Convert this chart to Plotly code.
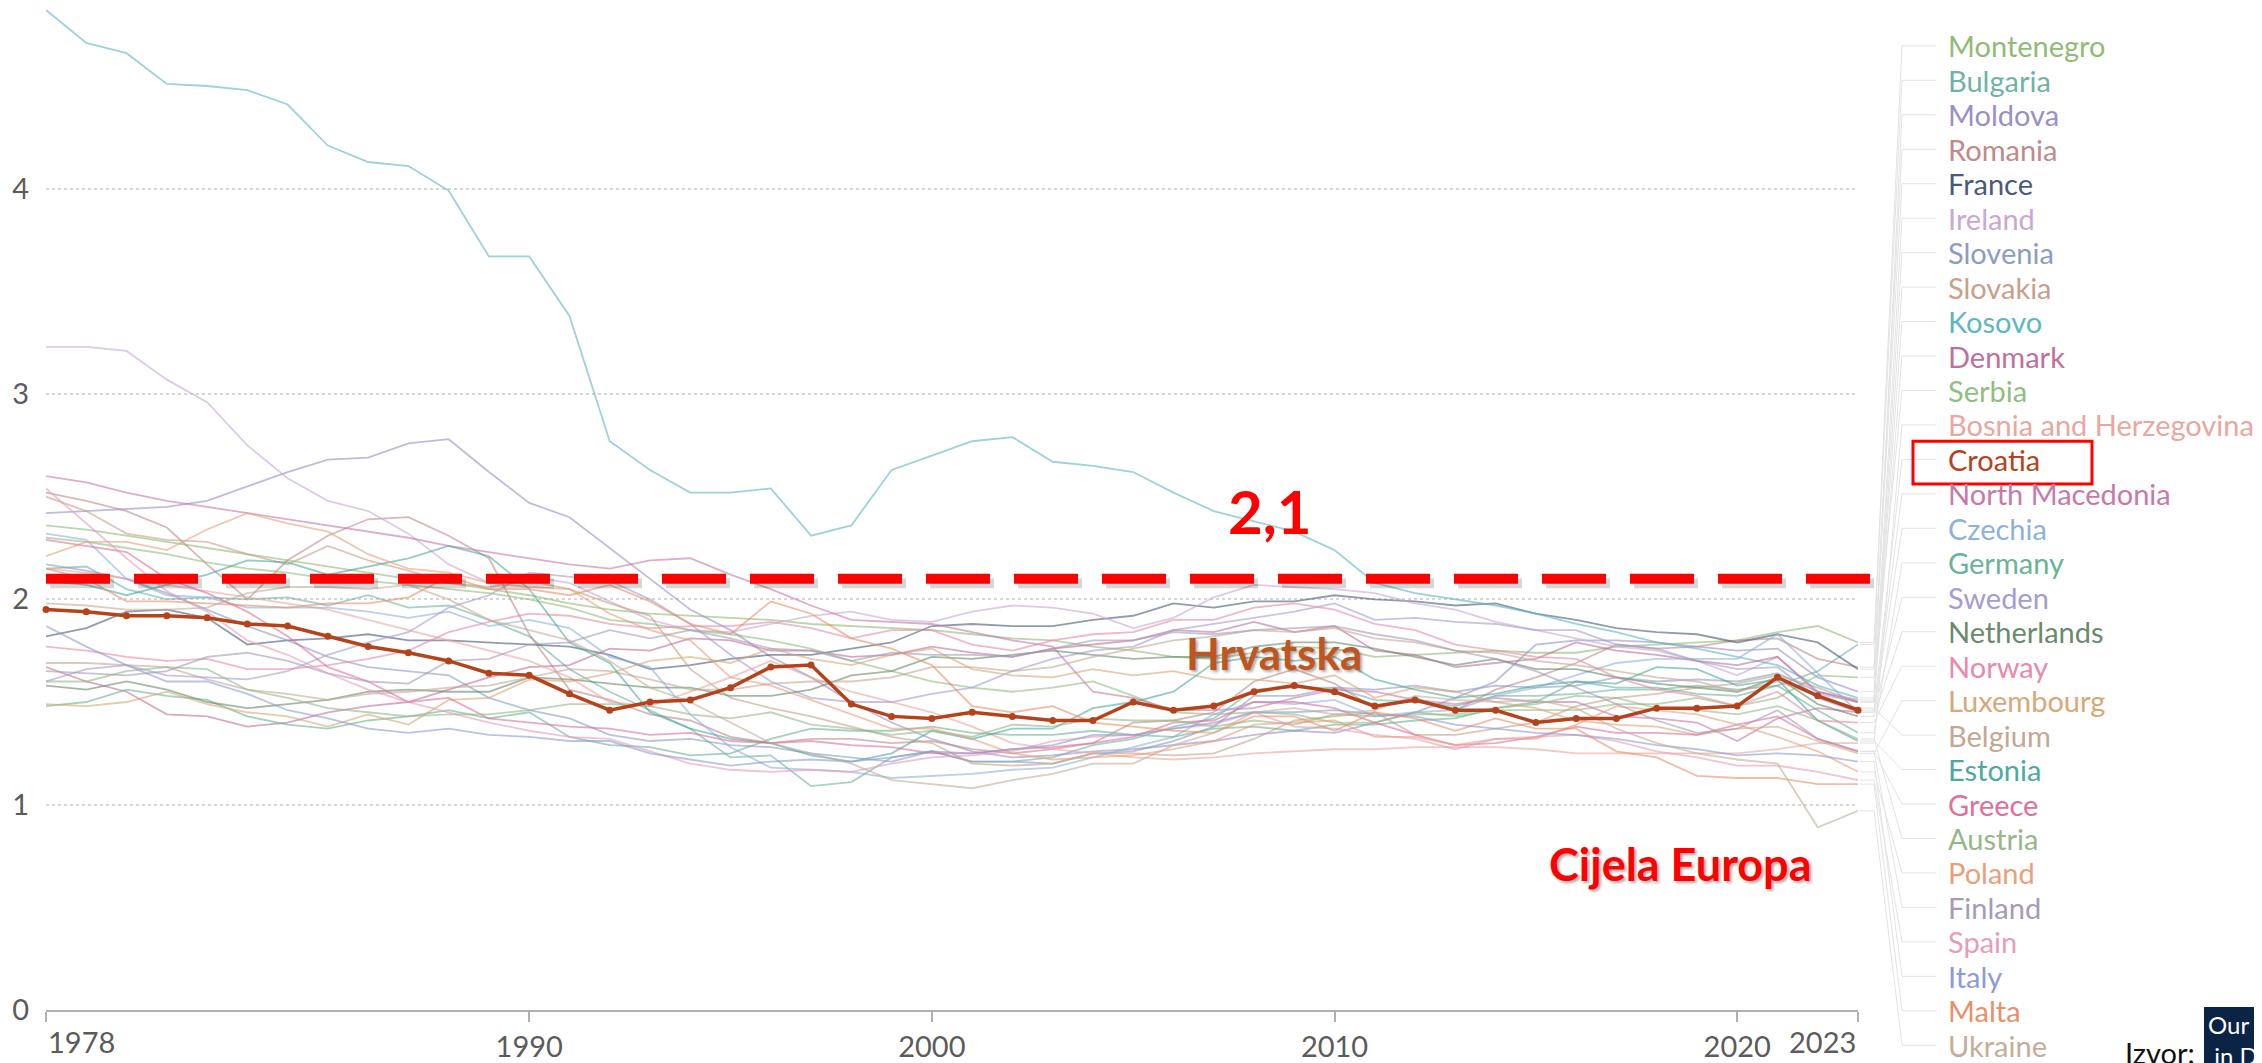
import plotly.graph_objects as go

# fertility rate, 1978-2023
years = list(range(1978, 2024))

countries = ["Montenegro", "Bulgaria", "Moldova", "Romania", "France", "Ireland",
             "Slovenia", "Slovakia", "Kosovo", "Denmark", "Serbia",
             "Bosnia and Herzegovina", "Croatia", "North Macedonia", "Czechia",
             "Germany", "Sweden", "Netherlands", "Norway", "Luxembourg", "Belgium",
             "Estonia", "Greece", "Austria", "Poland", "Finland", "Spain", "Italy",
             "Malta", "Ukraine"]

colors = ["#8fbc74", "#6fb3a6", "#9a8fc6", "#c08a8a", "#4a5a7a", "#c9a8d4",
          "#8b9cc4", "#c9a089", "#5fb5c0", "#c0709a", "#8fbf7f", "#e8a7a0",
          "#b4431c", "#c879a9", "#8eb1dc", "#6ab394", "#a59cd0", "#6b8a6b",
          "#e88aa8", "#d8a877", "#c4a894", "#4fa8a0", "#e06f9a", "#94b888",
          "#e8a07a", "#a69ab8", "#e89cb8", "#8c9cd4", "#e8906a", "#c4ae98"]

montenegro = [2.36, 2.34, 2.31, 2.28, 2.25, 2.22, 2.19, 2.16, 2.13, 2.10,
              2.08, 2.05, 2.02, 1.98, 1.95, 1.93, 1.92, 1.91, 1.90, 1.88,
              1.87, 1.86, 1.85, 1.83, 1.81, 1.80, 1.77, 1.75, 1.72, 1.71,
              1.74, 1.77, 1.76, 1.72, 1.73, 1.74, 1.75, 1.74, 1.74, 1.77,
              1.78, 1.79, 1.80, 1.84, 1.87, 1.79]
bulgaria = [2.15, 2.16, 2.05, 2.00, 2.01, 2.00, 2.01, 1.97, 2.02, 1.96,
            1.97, 1.90, 1.82, 1.66, 1.55, 1.46, 1.37, 1.23, 1.24, 1.09,
            1.11, 1.23, 1.26, 1.21, 1.21, 1.23, 1.29, 1.32, 1.38, 1.42,
            1.56, 1.57, 1.57, 1.51, 1.50, 1.48, 1.53, 1.53, 1.54, 1.56,
            1.56, 1.58, 1.56, 1.58, 1.65, 1.78]
moldova = [2.42, 2.43, 2.44, 2.45, 2.48, 2.55, 2.62, 2.68, 2.69, 2.76,
           2.78, 2.62, 2.47, 2.40, 2.25, 2.10, 1.95, 1.85, 1.72, 1.62,
           1.50, 1.40, 1.32, 1.26, 1.23, 1.24, 1.26, 1.27, 1.29, 1.31,
           1.34, 1.36, 1.35, 1.40, 1.45, 1.52, 1.60, 1.78, 1.80, 1.80,
           1.79, 1.77, 1.75, 1.76, 1.62, 1.55]
romania = [2.52, 2.48, 2.43, 2.35, 2.17, 2.00, 2.19, 2.31, 2.39, 2.40,
           2.31, 2.20, 1.83, 1.56, 1.51, 1.44, 1.41, 1.33, 1.30, 1.32,
           1.32, 1.30, 1.31, 1.27, 1.25, 1.27, 1.30, 1.40, 1.41, 1.45,
           1.60, 1.66, 1.59, 1.47, 1.52, 1.46, 1.56, 1.62, 1.69, 1.78,
           1.76, 1.77, 1.80, 1.81, 1.71, 1.67]
france = [1.82, 1.86, 1.94, 1.95, 1.91, 1.78, 1.80, 1.81, 1.83, 1.80,
          1.80, 1.79, 1.78, 1.77, 1.73, 1.66, 1.68, 1.71, 1.73, 1.73,
          1.76, 1.79, 1.87, 1.88, 1.87, 1.87, 1.90, 1.92, 1.98, 1.96,
          1.99, 1.99, 2.02, 2.00, 1.99, 1.97, 1.98, 1.93, 1.90, 1.86,
          1.84, 1.83, 1.79, 1.83, 1.79, 1.66]
ireland = [3.23, 3.23, 3.21, 3.07, 2.96, 2.75, 2.59, 2.48, 2.43, 2.32,
           2.17, 2.08, 2.11, 2.08, 1.99, 1.90, 1.85, 1.84, 1.88, 1.92,
           1.94, 1.90, 1.89, 1.94, 1.97, 1.96, 1.93, 1.86, 1.91, 2.01,
           2.07, 2.06, 2.05, 2.03, 1.98, 1.95, 1.89, 1.85, 1.81, 1.77,
           1.75, 1.70, 1.63, 1.72, 1.54, 1.50]
slovenia = [2.17, 2.14, 2.10, 2.03, 1.95, 1.87, 1.80, 1.72, 1.67, 1.65,
            1.63, 1.52, 1.46, 1.42, 1.34, 1.31, 1.32, 1.29, 1.28, 1.25,
            1.23, 1.21, 1.26, 1.21, 1.21, 1.20, 1.25, 1.26, 1.31, 1.38,
            1.53, 1.53, 1.57, 1.56, 1.58, 1.55, 1.58, 1.57, 1.58, 1.62,
            1.60, 1.61, 1.60, 1.64, 1.55, 1.51]
slovakia = [2.50, 2.43, 2.32, 2.29, 2.28, 2.22, 2.17, 2.26, 2.19, 2.14,
            2.08, 2.06, 2.09, 2.05, 1.98, 1.92, 1.66, 1.52, 1.47, 1.43,
            1.38, 1.33, 1.30, 1.20, 1.19, 1.20, 1.25, 1.25, 1.24, 1.25,
            1.32, 1.41, 1.43, 1.45, 1.34, 1.34, 1.37, 1.40, 1.48, 1.52,
            1.54, 1.57, 1.59, 1.63, 1.57, 1.50]
kosovo = [4.87, 4.71, 4.66, 4.51, 4.50, 4.48, 4.41, 4.21, 4.13, 4.11,
          3.99, 3.67, 3.67, 3.38, 2.77, 2.63, 2.52, 2.52, 2.54, 2.31,
          2.36, 2.63, 2.70, 2.77, 2.79, 2.67, 2.65, 2.62, 2.52, 2.43,
          2.38, 2.33, 2.24, 2.08, 2.03, 2.00, 1.97, 1.93, 1.88, 1.84,
          1.79, 1.76, 1.72, 1.68, 1.58, 1.52]
denmark = [1.67, 1.60, 1.55, 1.44, 1.43, 1.38, 1.40, 1.45, 1.48, 1.50,
           1.56, 1.62, 1.67, 1.68, 1.76, 1.75, 1.81, 1.80, 1.75, 1.75,
           1.72, 1.73, 1.77, 1.74, 1.72, 1.76, 1.78, 1.80, 1.85, 1.84,
           1.89, 1.84, 1.87, 1.75, 1.73, 1.67, 1.69, 1.71, 1.79, 1.75,
           1.73, 1.70, 1.68, 1.72, 1.55, 1.50]
serbia = [2.30, 2.28, 2.25, 2.22, 2.18, 2.15, 2.13, 2.10, 2.09, 2.07,
          2.05, 2.03, 2.00, 1.96, 1.90, 1.88, 1.85, 1.83, 1.80, 1.76,
          1.70, 1.65, 1.60, 1.57, 1.55, 1.57, 1.60, 1.53, 1.45, 1.44,
          1.45, 1.44, 1.40, 1.40, 1.45, 1.43, 1.46, 1.46, 1.46, 1.49,
          1.49, 1.52, 1.48, 1.52, 1.63, 1.62]
bosnia = [2.15, 2.13, 2.10, 2.07, 2.04, 2.01, 1.98, 1.95, 1.90, 1.85,
          1.80, 1.75, 1.70, 1.62, 1.50, 1.48, 1.55, 1.62, 1.70, 1.62,
          1.55, 1.50, 1.45, 1.38, 1.30, 1.27, 1.25, 1.23, 1.22, 1.23,
          1.25, 1.26, 1.27, 1.27, 1.28, 1.28, 1.28, 1.27, 1.25, 1.25,
          1.25, 1.25, 1.25, 1.27, 1.30, 1.30]
croatia = [1.95, 1.94, 1.92, 1.92, 1.91, 1.88, 1.87, 1.82, 1.77, 1.74,
           1.70, 1.64, 1.63, 1.54, 1.46, 1.50, 1.51, 1.57, 1.67, 1.68,
           1.49, 1.43, 1.42, 1.45, 1.43, 1.41, 1.41, 1.50, 1.46, 1.48,
           1.55, 1.58, 1.55, 1.48, 1.51, 1.46, 1.46, 1.40, 1.42, 1.42,
           1.47, 1.47, 1.48, 1.62, 1.53, 1.46]
north_macedonia = [2.60, 2.57, 2.52, 2.48, 2.45, 2.42, 2.39, 2.36, 2.33, 2.30,
                   2.26, 2.23, 2.20, 2.17, 2.15, 2.19, 2.20, 2.12, 2.05, 1.97,
                   1.90, 1.89, 1.88, 1.84, 1.80, 1.77, 1.55, 1.52, 1.46, 1.46,
                   1.47, 1.52, 1.56, 1.55, 1.51, 1.49, 1.52, 1.50, 1.50, 1.43,
                   1.42, 1.40, 1.31, 1.42, 1.47, 1.45]
czechia = [2.32, 2.29, 2.10, 2.02, 2.01, 1.96, 1.96, 1.96, 1.94, 1.91,
           1.94, 1.87, 1.90, 1.86, 1.72, 1.67, 1.44, 1.28, 1.18, 1.17,
           1.16, 1.13, 1.14, 1.15, 1.17, 1.18, 1.23, 1.28, 1.33, 1.44,
           1.50, 1.49, 1.51, 1.43, 1.45, 1.46, 1.53, 1.57, 1.63, 1.69,
           1.71, 1.71, 1.71, 1.83, 1.64, 1.45]
germany = [1.48, 1.50, 1.56, 1.53, 1.51, 1.43, 1.39, 1.37, 1.41, 1.43,
           1.46, 1.42, 1.45, 1.33, 1.29, 1.28, 1.24, 1.25, 1.32, 1.37,
           1.36, 1.36, 1.38, 1.35, 1.34, 1.34, 1.36, 1.34, 1.33, 1.37,
           1.38, 1.36, 1.39, 1.39, 1.41, 1.42, 1.47, 1.50, 1.60, 1.57,
           1.57, 1.54, 1.53, 1.58, 1.46, 1.35]
sweden = [1.60, 1.66, 1.68, 1.63, 1.62, 1.61, 1.65, 1.73, 1.79, 1.84,
          1.96, 2.02, 2.13, 2.11, 2.09, 2.00, 1.88, 1.73, 1.60, 1.52,
          1.50, 1.50, 1.54, 1.57, 1.65, 1.71, 1.75, 1.77, 1.85, 1.88,
          1.91, 1.94, 1.98, 1.90, 1.91, 1.89, 1.88, 1.85, 1.85, 1.78,
          1.76, 1.70, 1.66, 1.67, 1.52, 1.45]
netherlands = [1.58, 1.56, 1.60, 1.56, 1.50, 1.47, 1.49, 1.51, 1.55, 1.56,
               1.55, 1.55, 1.62, 1.61, 1.59, 1.57, 1.57, 1.53, 1.53, 1.56,
               1.63, 1.65, 1.72, 1.71, 1.73, 1.75, 1.73, 1.71, 1.72, 1.72,
               1.77, 1.79, 1.79, 1.76, 1.72, 1.68, 1.71, 1.66, 1.66, 1.62,
               1.59, 1.57, 1.55, 1.62, 1.49, 1.43]
norway = [1.77, 1.75, 1.72, 1.70, 1.71, 1.66, 1.66, 1.68, 1.71, 1.75,
          1.84, 1.89, 1.93, 1.92, 1.88, 1.86, 1.87, 1.87, 1.89, 1.86,
          1.81, 1.85, 1.85, 1.78, 1.75, 1.80, 1.83, 1.84, 1.90, 1.90,
          1.96, 1.98, 1.95, 1.88, 1.85, 1.78, 1.75, 1.72, 1.71, 1.62,
          1.56, 1.53, 1.48, 1.55, 1.41, 1.40]
luxembourg = [1.49, 1.48, 1.50, 1.55, 1.49, 1.45, 1.43, 1.38, 1.44, 1.39,
              1.51, 1.52, 1.61, 1.60, 1.64, 1.70, 1.72, 1.69, 1.76, 1.71,
              1.68, 1.73, 1.76, 1.66, 1.63, 1.62, 1.66, 1.63, 1.65, 1.61,
              1.61, 1.59, 1.63, 1.52, 1.57, 1.55, 1.50, 1.47, 1.41, 1.39,
              1.38, 1.34, 1.37, 1.38, 1.31, 1.25]
belgium = [1.69, 1.69, 1.68, 1.67, 1.61, 1.56, 1.54, 1.51, 1.54, 1.55,
           1.57, 1.58, 1.62, 1.66, 1.65, 1.61, 1.56, 1.56, 1.59, 1.60,
           1.60, 1.62, 1.67, 1.67, 1.65, 1.67, 1.72, 1.76, 1.80, 1.82,
           1.85, 1.84, 1.86, 1.81, 1.79, 1.75, 1.74, 1.70, 1.68, 1.65,
           1.62, 1.60, 1.55, 1.60, 1.53, 1.47]
estonia = [2.09, 2.07, 2.02, 2.07, 2.12, 2.19, 2.18, 2.12, 2.16, 2.20,
           2.26, 2.21, 2.05, 1.79, 1.69, 1.45, 1.37, 1.32, 1.30, 1.24,
           1.21, 1.25, 1.36, 1.32, 1.37, 1.37, 1.47, 1.50, 1.55, 1.69,
           1.72, 1.70, 1.72, 1.61, 1.56, 1.52, 1.54, 1.58, 1.60, 1.59,
           1.67, 1.66, 1.58, 1.61, 1.41, 1.31]
greece = [2.29, 2.26, 2.23, 2.10, 2.03, 1.94, 1.82, 1.67, 1.60, 1.50,
          1.52, 1.42, 1.40, 1.38, 1.37, 1.34, 1.35, 1.31, 1.30, 1.31,
          1.29, 1.28, 1.25, 1.25, 1.27, 1.28, 1.30, 1.33, 1.40, 1.41,
          1.50, 1.50, 1.47, 1.40, 1.34, 1.29, 1.30, 1.33, 1.38, 1.35,
          1.35, 1.34, 1.39, 1.43, 1.32, 1.26]
austria = [1.60, 1.60, 1.65, 1.67, 1.66, 1.56, 1.52, 1.47, 1.45, 1.43,
           1.44, 1.44, 1.46, 1.49, 1.49, 1.48, 1.44, 1.42, 1.45, 1.39,
           1.37, 1.34, 1.36, 1.33, 1.39, 1.38, 1.42, 1.41, 1.41, 1.38,
           1.41, 1.39, 1.44, 1.43, 1.44, 1.44, 1.47, 1.49, 1.53, 1.52,
           1.47, 1.46, 1.44, 1.48, 1.41, 1.32]
poland = [2.21, 2.28, 2.28, 2.24, 2.34, 2.42, 2.37, 2.33, 2.22, 2.15,
          2.13, 2.08, 2.06, 2.05, 1.93, 1.85, 1.80, 1.62, 1.58, 1.51,
          1.44, 1.37, 1.37, 1.32, 1.25, 1.22, 1.23, 1.24, 1.27, 1.31,
          1.39, 1.40, 1.41, 1.33, 1.33, 1.29, 1.32, 1.32, 1.39, 1.48,
          1.46, 1.44, 1.39, 1.33, 1.26, 1.16]
finland = [1.65, 1.64, 1.63, 1.65, 1.72, 1.74, 1.70, 1.64, 1.60, 1.59,
           1.70, 1.71, 1.78, 1.79, 1.85, 1.81, 1.85, 1.81, 1.76, 1.75,
           1.70, 1.74, 1.73, 1.73, 1.72, 1.76, 1.80, 1.80, 1.84, 1.83,
           1.85, 1.86, 1.87, 1.83, 1.80, 1.75, 1.71, 1.65, 1.57, 1.49,
           1.41, 1.35, 1.37, 1.46, 1.32, 1.26]
spain = [2.54, 2.37, 2.20, 2.04, 1.94, 1.80, 1.73, 1.64, 1.56, 1.50,
         1.45, 1.40, 1.36, 1.33, 1.32, 1.26, 1.20, 1.17, 1.16, 1.17,
         1.16, 1.20, 1.23, 1.24, 1.26, 1.31, 1.33, 1.34, 1.37, 1.39,
         1.45, 1.38, 1.37, 1.34, 1.32, 1.27, 1.32, 1.33, 1.34, 1.31,
         1.26, 1.23, 1.19, 1.19, 1.16, 1.12]
italy = [1.87, 1.77, 1.68, 1.60, 1.60, 1.54, 1.46, 1.42, 1.37, 1.35,
         1.37, 1.34, 1.33, 1.31, 1.31, 1.25, 1.22, 1.19, 1.21, 1.22,
         1.21, 1.23, 1.26, 1.25, 1.27, 1.29, 1.34, 1.34, 1.37, 1.40,
         1.45, 1.45, 1.46, 1.44, 1.43, 1.39, 1.37, 1.35, 1.34, 1.32,
         1.29, 1.27, 1.24, 1.25, 1.24, 1.21]
malta = [2.15, 2.10, 1.99, 1.99, 1.98, 1.97, 1.96, 1.98, 1.98, 2.01,
         2.11, 2.05, 2.05, 2.02, 2.07, 1.99, 1.88, 1.83, 1.99, 1.93,
         1.81, 1.76, 1.68, 1.48, 1.45, 1.48, 1.40, 1.38, 1.36, 1.35,
         1.43, 1.43, 1.36, 1.45, 1.42, 1.36, 1.42, 1.37, 1.37, 1.26,
         1.23, 1.14, 1.13, 1.13, 1.10, 1.10]
ukraine = [1.98, 1.97, 1.95, 1.95, 1.96, 2.03, 2.06, 2.06, 2.05, 2.07,
           2.00, 1.90, 1.85, 1.80, 1.70, 1.57, 1.50, 1.40, 1.30, 1.25,
           1.20, 1.12, 1.10, 1.08, 1.12, 1.15, 1.20, 1.20, 1.29, 1.35,
           1.45, 1.47, 1.44, 1.46, 1.53, 1.51, 1.50, 1.51, 1.47, 1.37,
           1.30, 1.25, 1.22, 1.20, 0.89, 0.97]

series = [montenegro, bulgaria, moldova, romania, france, ireland, slovenia,
          slovakia, kosovo, denmark, serbia, bosnia, croatia, north_macedonia,
          czechia, germany, sweden, netherlands, norway, luxembourg, belgium,
          estonia, greece, austria, poland, finland, spain, italy, malta, ukraine]

replacement_level = 2.1
x_ticks = [1978, 1990, 2000, 2010, 2020, 2023]
y_ticks = [0, 1, 2, 3, 4]

# the page body has an 8px margin, so the figure is 8px smaller than the window
PAGE_OFF = 8
W, H = 2262 - PAGE_OFF, 1063 - PAGE_OFF
ML, MR, MT, MB = 46 - PAGE_OFF, 404, 0, 49
PW, PH = W - ML - MR, H - MT - MB
YMAX = 4.88


# page pixel -> paper fraction
def px_x(px):
    return (px - 46) / PW


def px_y(py):
    return (1014 - py) / PH


fig = go.Figure()

# background countries
for name, vals, col in zip(countries, series, colors):
    if name == "Croatia":
        continue
    fig.add_trace(go.Scatter(x=years, y=vals, mode="lines", name=name,
                             line=dict(color=col, width=1.8), opacity=0.6,
                             showlegend=False))

# Croatia highlighted
fig.add_trace(go.Scatter(x=years, y=croatia, mode="lines+markers", name="Croatia",
                         line=dict(color="#b4431c", width=3.5),
                         marker=dict(size=7, color="#b4431c"),
                         cliponaxis=False, showlegend=False))

shapes = []
annotations = []

# label connectors and labels on the right
label_x = px_x(1946)
for i, (name, vals, col) in enumerate(zip(countries, series, colors)):
    ly = px_y(46 + i * 34.6)
    ey = vals[-1] / YMAX
    shapes.append(dict(type="path", xref="paper", yref="paper", layer="below",
                       path=f"M {px_x(1860)},{ey} L {px_x(1874)},{ey} "
                            f"L {px_x(1902)},{ly} L {px_x(1936)},{ly}",
                       line=dict(color="#e3e3e3", width=1)))
    annotations.append(dict(x=label_x, y=ly, xref="paper", yref="paper",
                            text=name, showarrow=False, xanchor="left",
                            yanchor="middle",
                            font=dict(family="Lato", size=29, color=col)))

# 2.1 replacement line with a soft shadow
shapes.append(dict(type="line", xref="paper", yref="y",
                   x0=px_x(50), x1=px_x(1876),
                   y0=replacement_level - 0.022, y1=replacement_level - 0.022,
                   line=dict(color="rgba(0,0,0,0.16)", width=10, dash="64px,24px")))
shapes.append(dict(type="line", xref="paper", yref="y",
                   x0=0, x1=px_x(1872), y0=replacement_level, y1=replacement_level,
                   line=dict(color="#ff0000", width=10, dash="64px,24px")))

# box around Croatia label
shapes.append(dict(type="rect", xref="paper", yref="paper",
                   x0=px_x(1913), x1=px_x(2092), y0=px_y(486), y1=px_y(443),
                   line=dict(color="#ff0000", width=3)))

# logo box
shapes.append(dict(type="rect", xref="paper", yref="paper",
                   x0=px_x(2204), x1=px_x(2300), y0=px_y(1070), y1=px_y(1011),
                   fillcolor="#0b2345", line=dict(width=0)))

shadow = "2px 2px 3px rgba(0,0,0,0.35)"
tick_font = dict(family="Lato", size=29, color="#5b5b5b")
annotations += [
    dict(x=2008.4, y=2.43, xref="x", yref="y", text="<b>2,1</b>", showarrow=False,
         font=dict(family="Lato", size=60, color="#ff0000")),
    dict(x=2008.5, y=1.74, xref="x", yref="y", text="<b>Hrvatska</b>",
         showarrow=False, font=dict(family="Lato", size=44, color="#c0561f",
                                    shadow=shadow)),
    dict(x=2018.6, y=0.71, xref="x", yref="y", text="<b>Cijela Europa</b>",
         showarrow=False, font=dict(family="Lato", size=45, color="#ff0000",
                                    shadow=shadow)),
    dict(x=1978, y=px_y(1046), xref="x", yref="paper", text="1978",
         showarrow=False, xanchor="left", yanchor="middle", font=tick_font),
    dict(x=2023, y=px_y(1046), xref="x", yref="paper", text="2023",
         showarrow=False, xanchor="right", yanchor="middle", font=tick_font),
    dict(x=px_x(2123), y=px_y(1057), xref="paper", yref="paper", text="Izvor:",
         showarrow=False, xanchor="left", yanchor="middle",
         font=dict(family="Lato", size=29, color="#111111")),
    dict(x=px_x(2206), y=px_y(1012), xref="paper", yref="paper",
         text="Our World<br> in Data", showarrow=False, xanchor="left",
         yanchor="top", align="left",
         font=dict(family="Lato", size=24, color="#ffffff")),
]

fig.update_layout(
    width=W, height=H,
    margin=dict(l=ML, r=MR, t=MT, b=MB),
    paper_bgcolor="white", plot_bgcolor="white",
    shapes=shapes, annotations=annotations,
    xaxis=dict(range=[1978, 2023], tickvals=x_ticks,
               ticktext=["", "1990", "2000", "2010", "2020", ""],
               ticks="outside", ticklen=10, tickwidth=2, tickcolor="#b0b0b0",
               showline=True, linecolor="#b0b0b0", linewidth=2,
               showgrid=False, zeroline=False, tickfont=tick_font),
    yaxis=dict(range=[0, YMAX], tickvals=y_ticks, showgrid=True,
               gridcolor="#d6d6d6", gridwidth=1.5, griddash="dot",
               zeroline=False, showline=False, ticklabelstandoff=16,
               tickfont=tick_font),
)

fig.write_html("out.html")
